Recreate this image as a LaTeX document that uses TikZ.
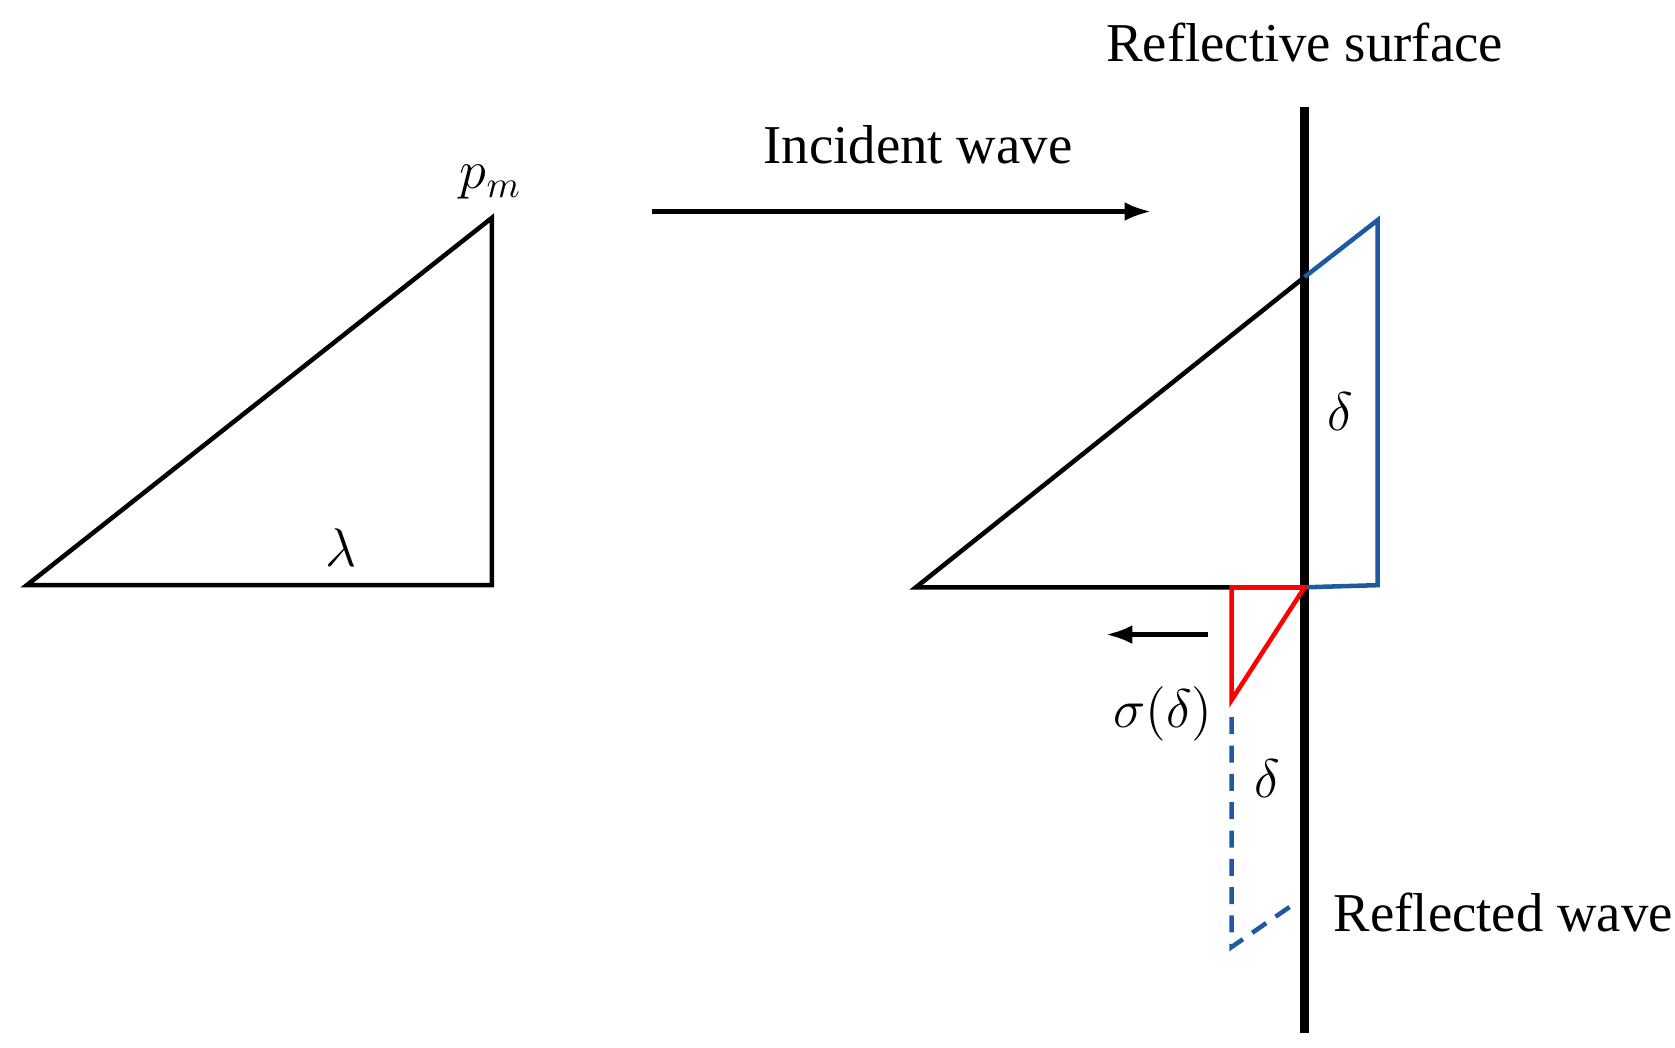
\documentclass[tikz,border=0pt]{standalone}
\usepackage{fontspec}
\setmainfont{Liberation Serif}
\usetikzlibrary{arrows.meta}
\begin{document}
\begin{tikzpicture}[x=0.01cm,y=-0.01cm,
  ln/.style={line width=1.2pt,line join=miter},
  lbl/.style={font=\fontsize{14.5}{17}\selectfont,inner sep=0pt},
  arr/.style={ln,-{Latex[length=7pt,width=5pt]}}]
\useasboundingbox (0,0) rectangle (1560,976);
\definecolor{wblue}{RGB}{30,90,160}
% left triangle
\coordinate (A) at (25,545); \coordinate (B) at (458,545); \coordinate (C) at (458,203);
\draw[ln] (A) -- (B) -- (C) -- cycle;
\node[lbl] (lam) at (318,510) {$\lambda$};
\node[lbl] (pm) at (457,170) {$p_m$};
% incident arrow
\coordinate (i1) at (607,197); \coordinate (i2) at (1072,197);
\draw[arr] (i1) -- (i2);
\node[lbl] (inc) at (855,135) {Incident wave};
% surface
\coordinate (s1) at (1215,100); \coordinate (s2) at (1215,962);
\draw[line width=2.2pt] (s1) -- (s2);
\node[lbl] (rs) at (1215,40) {Reflective surface};
% right black triangle
\coordinate (D) at (853,547); \coordinate (E) at (1215,547); \coordinate (F) at (1215,258);
\draw[ln] (E) -- (D) -- (F);
% blue
\coordinate (G) at (1283,205); \coordinate (H) at (1283,545);
\draw[ln,wblue] (F) -- (G) -- (H) -- (E);
\node[lbl] (d1) at (1248,383) {$\delta$};
% red
\coordinate (R1) at (1147,547); \coordinate (R2) at (1147,652);
\draw[ln,red] (R1) -- (E) -- (R2) -- cycle;
\coordinate (a1) at (1125,591); \coordinate (a2) at (1030,591);
\draw[arr] (a1) -- (a2);
\node[lbl] (sig) at (1083,665) {$\sigma(\delta)$};
% dashed reflected
\coordinate (P1) at (1147,668); \coordinate (P2) at (1147,882); \coordinate (P3) at (1205,842);
\draw[ln,wblue,dash pattern=on 4.5pt off 3pt] (P1) -- (P2) -- (P3);
\node[lbl] (d2) at (1180,725) {$\delta$};
\node[lbl] (rw) at (1400,850) {Reflected wave};
\end{tikzpicture}
\end{document}
